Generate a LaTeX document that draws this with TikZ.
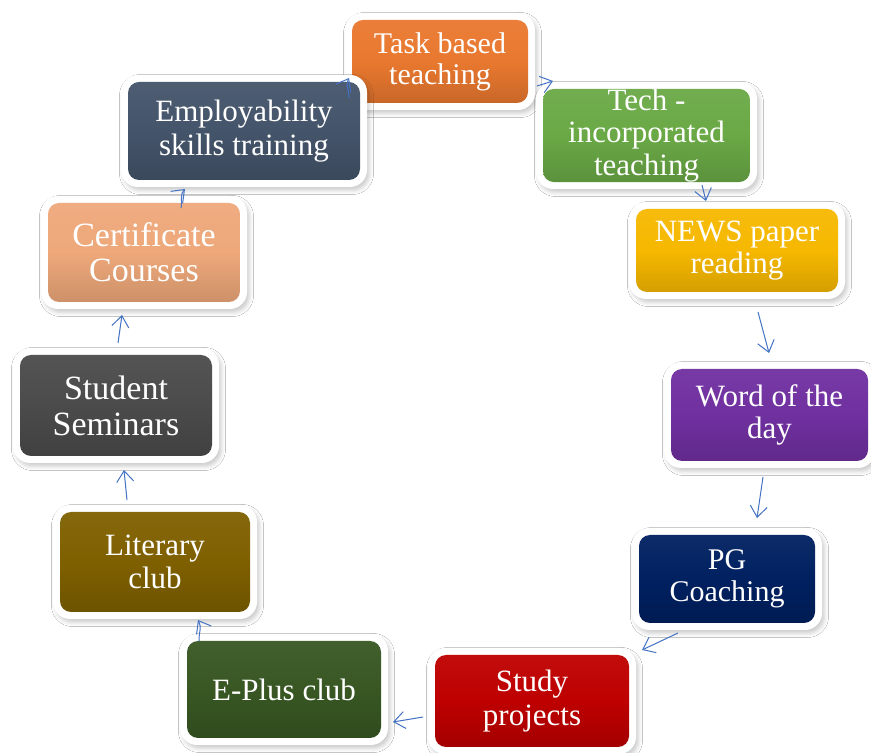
\documentclass[tikz,border=0pt]{standalone}
\usepackage{fontspec}
\setmainfont{Liberation Serif}
\usetikzlibrary{arrows.meta,shadows.blur}
\definecolor{arrowblue}{HTML}{4472C4}
\definecolor{ctask}{HTML}{E9782F}
\definecolor{ctech}{HTML}{6AA946}
\definecolor{cnews}{HTML}{F6B800}
\definecolor{cword}{HTML}{7030A0}
\definecolor{cpg}{HTML}{002060}
\definecolor{cstudy}{HTML}{BE0000}
\definecolor{ceplus}{HTML}{385723}
\definecolor{clit}{HTML}{7F6000}
\definecolor{csem}{HTML}{4B4B4B}
\definecolor{ccert}{HTML}{EEA87A}
\definecolor{cemp}{HTML}{44546A}
\tikzset{
  framebox/.style={fill=white, rounded corners=17pt,
    blur shadow={shadow xshift=2.5pt, shadow yshift=-3.5pt, shadow blur radius=4pt, shadow opacity=20}},
  cbox/.style={rounded corners=11pt, text=white, align=center, inner sep=0pt, draw=none},
  conn/.style={draw=arrowblue, line width=1pt, -{Straight Barb[length=11pt,width=17pt,line width=1pt]}},
}
% name, cx, cy, w, h, color, size, skip, text
\newcommand\stepbx[9]{%
  \fill[framebox] (#2-#4/2-7,#3-#5/2-7) rectangle (#2+#4/2+7,#3+#5/2+7);
  \node[cbox, minimum width=#4pt, minimum height=#5pt,
        top color=#6!95!white, bottom color=#6!86!black, middle color=#6,
        font=\fontsize{#7}{#8}\selectfont] (#1) at (#2,#3) {#9};
}
\begin{document}
\begin{tikzpicture}[x=1pt,y=1pt]
\fill[white] (0,0) rectangle (871,753);
\useasboundingbox (0,0) rectangle (871,753);
\stepbx{task}{440}{691.5}{176}{83}{ctask}{30}{31}{Task based\\teaching}
\stepbx{tech}{646.5}{617.5}{207}{93}{ctech}{31}{32.5}{Tech -\\incorporated\\teaching}
\stepbx{news}{737}{502.5}{202}{83}{cnews}{31}{32}{NEWS paper\\reading}
\stepbx{word}{769.5}{338}{197}{92}{cword}{31}{32}{Word of the\\day}
\stepbx{pg}{727}{174}{176}{88}{cpg}{30}{32}{PG\\Coaching}
\stepbx{study}{532}{52}{194}{92}{cstudy}{31}{34}{Study\\projects}
\stepbx{eplus}{284}{63.5}{194}{97}{ceplus}{31}{33}{E-Plus club}
\stepbx{lit}{155}{191}{190}{100}{clit}{31}{33}{Literary\\club}
\stepbx{sem}{116}{347.5}{192}{101}{csem}{34}{36}{Student\\Seminars}
\stepbx{cert}{144}{500.5}{192}{99}{ccert}{34}{35}{Certificate\\Courses}
\stepbx{emp}{244}{622}{232}{98}{cemp}{31}{34}{Employability\\skills training}
% connector end points
\coordinate (a1s) at (537,667);  \coordinate (a1e) at (553,672);
\coordinate (a2s) at (702,568);  \coordinate (a2e) at (706,552);
\coordinate (a3s) at (758,441);  \coordinate (a3e) at (769,400);
\coordinate (a4s) at (763,276);  \coordinate (a4e) at (757,235);
\coordinate (a5s) at (678,120);  \coordinate (a5e) at (642,103);
\coordinate (a6s) at (423,36);   \coordinate (a6e) at (393,31);
\coordinate (a7s) at (199,112);  \coordinate (a7e) at (198,133);
\coordinate (a8s) at (127,253);  \coordinate (a8e) at (124,283);
\coordinate (a9s) at (118,410);  \coordinate (a9e) at (122,438);
\coordinate (a10s) at (181,545); \coordinate (a10e) at (185,564);
\coordinate (a11s) at (349,655); \coordinate (a11e) at (349,675);
\draw[conn] (a1s) -- (a1e);
\draw[conn] (a2s) -- (a2e);
\draw[conn] (a3s) -- (a3e);
\draw[conn] (a4s) -- (a4e);
\draw[conn] (a5s) -- (a5e);
\draw[conn] (a6s) -- (a6e);
\draw[conn] (a7s) to[out=92,in=-60] (a7e);
\draw[conn] (a8s) -- (a8e);
\draw[conn] (a9s) -- (a9e);
\draw[conn] (a10s) to[out=78,in=-135] (a10e);
\draw[conn] (a11s) to[out=90,in=-119] (a11e);
\end{tikzpicture}
\end{document}
